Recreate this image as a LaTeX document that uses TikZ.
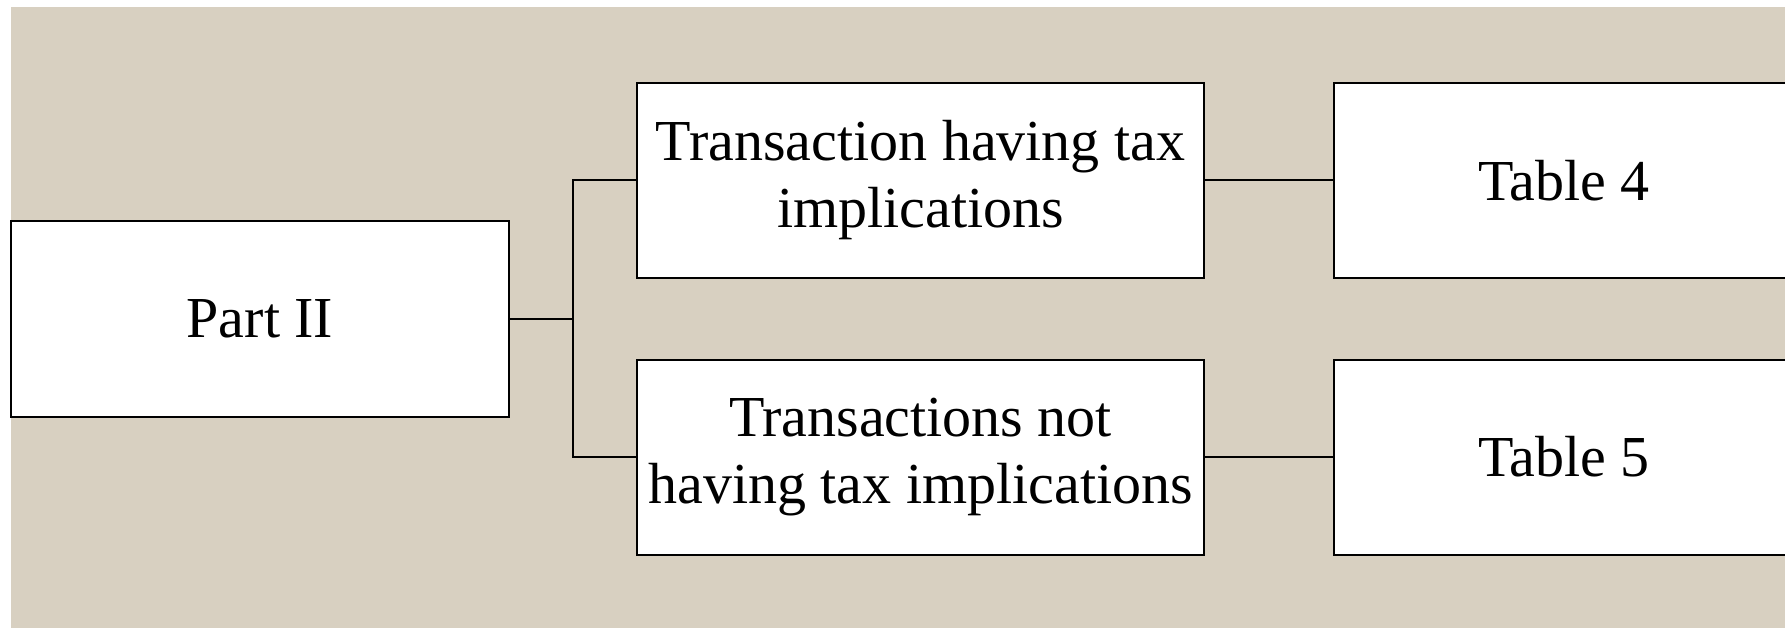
\documentclass[tikz,border=0pt]{standalone}
\usepackage{fontspec}
\setmainfont{Liberation Serif}
\definecolor{bgtan}{HTML}{D8D0C1}
\begin{document}
\begin{tikzpicture}[x=1pt,y=-1pt,
  box/.style={draw=black,line width=2pt,fill=white,inner sep=0pt,align=center,
    font=\fontsize{58}{67}\selectfont},
  link/.style={draw=black,line width=2pt}]
\useasboundingbox (0,0) rectangle (1785,628);
\clip (0,0) rectangle (1785,628);
\fill[bgtan] (11,7) rectangle (1790,630);
\node[box,minimum width=498pt,minimum height=196pt] (part) at (260,319) {Part II};
\node[box,minimum width=567pt,minimum height=195pt] (tax) at (920.5,180.5) {Transaction having tax\\implications};
\node[box,minimum width=567pt,minimum height=195pt] (notax) at (920.5,457) {Transactions not\\having tax implications};
\node[box,minimum width=460pt,minimum height=195pt,anchor=west] (t4) at (1333,180.5) {Table 4};
\node[box,minimum width=460pt,minimum height=195pt,anchor=west] (t5) at (1333,457) {Table 5};
\coordinate (fork) at (573,319);
\draw[link] (part.east) -- (fork);
\draw[link] (fork) |- (tax.west);
\draw[link] (fork) |- (notax.west);
\draw[link] (tax.east) -- (t4.west);
\draw[link] (notax.east) -- (t5.west);
\end{tikzpicture}
\end{document}
